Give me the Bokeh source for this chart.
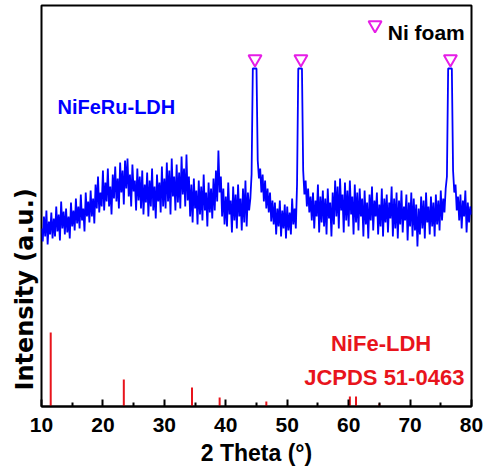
from bokeh.plotting import figure
from bokeh.models import Range1d, FixedTicker, Label, Title
from bokeh.embed import file_html
from bokeh.resources import INLINE

# ---------------- data ----------------
# NiFeRu-LDH on Ni foam, 2-theta from 10 to 80 deg, 0.2 deg step
theta_start = 10.0
theta_step = 0.2
intensity = [
    178, 165, 190, 170, 196, 162, 185, 172, 194, 168,   # 10-12
    188, 170, 200, 175, 192, 166, 205, 178, 195, 172,   # 12-14
    198, 174, 190, 168, 204, 180, 196, 176, 208, 183,   # 14-16
    200, 178, 212, 186, 198, 175, 214, 190, 205, 184,   # 16-18
    216, 190, 208, 183, 222, 198, 230, 194, 214, 200,   # 18-20
    236, 196, 224, 205, 238, 200, 220, 192, 232, 208,   # 20-22
    240, 205, 228, 198, 244, 214, 236, 202, 246, 218,   # 22-24
    248, 210, 232, 200, 242, 215, 226, 196, 238, 206,   # 24-26
    230, 198, 236, 192, 222, 204, 234, 190, 226, 200,   # 26-28
    238, 196, 220, 188, 232, 205, 224, 194, 240, 200,   # 28-30
    228, 198, 244, 205, 236, 192, 248, 210, 230, 196,   # 30-32
    242, 204, 234, 198, 250, 212, 238, 200, 252, 206,   # 32-34
    230, 190, 222, 184, 228, 198, 216, 182, 226, 192,   # 34-36
    220, 186, 232, 196, 214, 180, 224, 194, 218, 188,   # 36-38
    228, 196, 236, 205, 256, 214, 230, 190, 218, 182,   # 38-40
    210, 180, 224, 192, 206, 174, 220, 186, 212, 178,   # 40-42
    222, 190, 208, 176, 218, 184, 226, 180, 214, 196,   # 42-44
    208, 232, 338, 338, 338, 338, 246, 228, 238, 214,   # 44-46
    232, 205, 226, 198, 218, 194, 214, 185, 206, 182,   # 46-48
    204, 172, 198, 180, 206, 170, 196, 178, 202, 168,   # 48-50
    200, 176, 194, 172, 208, 182, 198, 178, 222, 338,   # 50-52
    338, 338, 338, 236, 212, 226, 200, 218, 194, 210,   # 52-54
    186, 214, 178, 206, 190, 222, 174, 210, 184, 216,   # 54-56
    180, 208, 172, 218, 188, 204, 170, 214, 182, 226,   # 56-58
    190, 220, 178, 228, 196, 212, 174, 224, 186, 216,   # 58-60
    180, 226, 192, 210, 172, 222, 184, 214, 176, 218,   # 60-62
    190, 208, 170, 216, 182, 204, 168, 212, 186, 220,   # 62-64
    176, 206, 190, 214, 172, 202, 180, 218, 170, 208,   # 64-66
    184, 212, 174, 204, 188, 220, 170, 208, 178, 214,   # 66-68
    168, 206, 182, 216, 174, 200, 186, 212, 166, 204,   # 68-70
    180, 214, 170, 208, 176, 202, 160, 198, 172, 210,   # 70-72
    178, 206, 168, 214, 184, 200, 172, 210, 180, 204,   # 72-74
    170, 212, 182, 206, 176, 216, 186, 208, 194, 218,   # 74-76
    230, 338, 338, 338, 338, 236, 214, 222, 196, 210,   # 76-78
    186, 212, 178, 206, 190, 216, 174, 204, 184, 200,   # 78-80
    192,
]
two_theta = [round(theta_start + theta_step * i, 1) for i in range(len(intensity))]

# NiFe-LDH reference pattern (JCPDS 51-0463)
ref_theta = [11.5, 23.4, 34.5, 39.0, 46.6, 60.2, 61.2, 65.0]
ref_intensity = [74, 27, 19, 9, 5, 10, 10, 3]

# Ni foam peak markers
ni_foam_peaks = [44.76, 52.23, 76.57]

x_ticks = [10, 20, 30, 40, 50, 60, 70, 80]
x_minor_ticks = [15, 25, 35, 45, 55, 65, 75]

# ---------------- figure ----------------
FONT = "Liberation Sans"
BLUE = "#0000ff"
RED = "#e8141c"
MAGENTA = "#e61ee6"

p = figure(width=484, height=472, output_backend="svg", toolbar_location=None,
           x_range=Range1d(10, 80), y_range=Range1d(0, 401),
           min_border_left=41, min_border_right=13, min_border_top=5, min_border_bottom=66)
p.background_fill_color = "white"
p.border_fill_color = "white"
p.outline_line_color = "black"
p.outline_line_width = 2
p.xgrid.visible = False
p.ygrid.visible = False
p.yaxis.visible = False

xa = p.xaxis[0]
xa.ticker = FixedTicker(ticks=x_ticks, minor_ticks=x_minor_ticks)
xa.axis_line_width = 2
xa.major_tick_in = 7
xa.major_tick_out = 0
xa.minor_tick_in = 4
xa.minor_tick_out = 0
xa.major_tick_line_width = 2
xa.minor_tick_line_width = 2
xa.major_label_standoff = 11
xa.major_label_text_font = FONT
xa.major_label_text_font_style = "bold"
xa.major_label_text_font_size = "21px"
xa.major_label_text_color = "black"
xa.axis_label = "2 Theta (°)"
xa.axis_label_text_font = FONT
xa.axis_label_text_font_style = "bold"
xa.axis_label_text_font_size = "23px"
xa.axis_label_text_color = "black"
xa.axis_label_standoff = 5

# pattern
p.line(two_theta, intensity, line_color=BLUE, line_width=1.8)

# reference sticks
p.segment(x0=ref_theta, y0=[0] * len(ref_theta), x1=ref_theta, y1=ref_intensity,
          line_color=RED, line_width=2)

# Ni foam markers
marker_level = 347.5
p.scatter(ni_foam_peaks, [marker_level] * len(ni_foam_peaks), marker="inverted_triangle",
          size=13, fill_color=None, line_color=MAGENTA, line_width=2)
p.scatter([64.3], [381.5], marker="inverted_triangle", size=13,
          fill_color=None, line_color=MAGENTA, line_width=2)

def add_label(x, y, text, color, size, align="left"):
    p.add_layout(Label(x=x, y=y, text=text, text_color=color, text_font=FONT,
                       text_font_style="bold", text_font_size=size,
                       text_align=align, text_baseline="alphabetic"))

add_label(66.37, 374.3, "Ni foam", "black", "21px")
add_label(12.6, 299.3, "NiFeRu-LDH", BLUE, "20px")
add_label(65.28, 63.3, "NiFe-LDH", RED, "22px", align="center")
add_label(65.8, 28.7, "JCPDS 51-0463", RED, "22px", align="center")

# y axis title, placed low as in the original
p.add_layout(Title(text="Intensity (a.u.)", align="left", offset=16, standoff=5,
                   text_color="black", text_font="DejaVu Sans", text_font_style="bold",
                   text_font_size="24px"), "left")

open("out.html", "w").write(file_html(p, INLINE))
